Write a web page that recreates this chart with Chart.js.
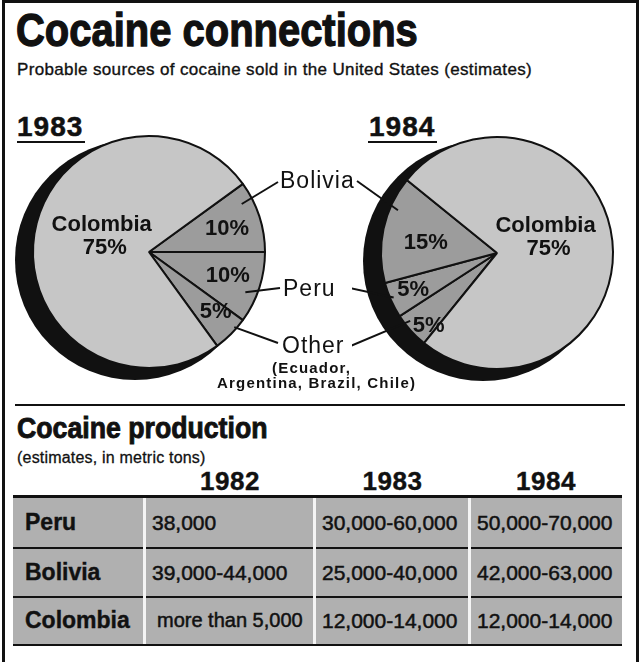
<!DOCTYPE html>
<html><head><meta charset="utf-8">
<script src="https://cdn.jsdelivr.net/npm/chart.js@4.4.1/dist/chart.umd.min.js"></script>
<style>
body{margin:0;width:641px;height:662px;background:#fff;position:relative;overflow:hidden;font-family:"Liberation Sans",Arial,sans-serif;color:#111}
.t{position:absolute;white-space:nowrap;line-height:1}
canvas{position:absolute}
</style></head><body>
<script>
// ---- data ----
const pieCategories1983 = ['Bolivia', 'Peru', 'Other', 'Colombia'];
const pieValues1983 = [10, 10, 5, 75];
const pieCategories1984 = ['Other', 'Peru', 'Bolivia', 'Colombia'];
const pieValues1984 = [5, 5, 15, 75];
const tableYears = ['1982', '1983', '1984'];
const tableCountries = ['Peru', 'Bolivia', 'Colombia'];
const prodPeru = ['38,000', '30,000-60,000', '50,000-70,000'];
const prodBolivia = ['39,000-44,000', '25,000-40,000', '42,000-63,000'];
const prodColombia = ['more than 5,000', '12,000-14,000', '12,000-14,000'];
</script>

<div style="position:absolute;left:2px;top:0;width:631px;height:720px;border:3px solid #111;border-bottom:none"></div>

<div class="t" style="left:16px;top:6px;font-size:47px;font-weight:bold;transform:scaleX(0.85);transform-origin:0 0;-webkit-text-stroke:1.3px #111">Cocaine connections</div>
<div class="t" style="left:17px;top:61px;font-size:17px;letter-spacing:0.35px;-webkit-text-stroke:0.35px #111">Probable sources of cocaine sold in the United States (estimates)</div>

<div class="t" style="left:17px;top:113px;font-size:28px;font-weight:bold;letter-spacing:1px;-webkit-text-stroke:0.5px #111">1983</div>
<div style="position:absolute;left:17px;top:141px;width:68px;height:2px;background:#111"></div>
<div class="t" style="left:369px;top:113px;font-size:28px;font-weight:bold;letter-spacing:1px;-webkit-text-stroke:0.5px #111">1984</div>
<div style="position:absolute;left:368px;top:141px;width:69px;height:2px;background:#111"></div>

<canvas id="c1983" width="270" height="270" style="left:14px;top:117px;width:270px;height:270px"></canvas>
<canvas id="c1984" width="290" height="290" style="left:352px;top:108px;width:290px;height:290px"></canvas>

<div class="t" style="left:280px;top:169px;font-size:23px;letter-spacing:1px;z-index:2">Bolivia</div>
<div class="t" style="left:283px;top:277px;font-size:23px;letter-spacing:1px;z-index:2">Peru</div>
<div class="t" style="left:282px;top:334px;font-size:23px;letter-spacing:1px;z-index:2">Other</div>
<div class="t" style="left:272px;top:360px;font-size:15px;font-weight:bold;letter-spacing:1.2px;z-index:2">(Ecuador,</div>
<div class="t" style="left:217px;top:375px;font-size:15px;font-weight:bold;letter-spacing:1.2px;z-index:2">Argentina, Brazil, Chile)</div>

<div style="position:absolute;left:15px;top:404px;width:610px;height:2px;background:#111"></div>

<div class="t" style="left:17px;top:414px;font-size:29px;font-weight:bold;transform:scaleX(0.92);transform-origin:0 0;-webkit-text-stroke:0.9px #111">Cocaine production</div>
<div class="t" style="left:17px;top:450px;font-size:16px;letter-spacing:0.2px;-webkit-text-stroke:0.3px #111">(estimates, in metric tons)</div>

<div id="table"></div>

<script>
// ---- table (built from the arrays) ----
(function(){
  const host = document.getElementById('table');
  const colX = [13, 145, 315, 470, 622];
  const rowY = [498, 549, 598, 646];
  const rows = [prodPeru, prodBolivia, prodColombia];
  let html = '';
  tableYears.forEach((y, i) => {
    html += `<div class="t" style="left:${colX[i+1]}px;width:${colX[i+2]-colX[i+1]}px;text-align:center;top:468px;font-size:26px;font-weight:bold;letter-spacing:0.5px;-webkit-text-stroke:0.4px #111">${y}</div>`;
  });
  html += `<div style="position:absolute;left:${colX[0]}px;top:${rowY[0]}px;width:${colX[4]-colX[0]}px;height:${rowY[3]-rowY[0]}px;background:#b0b0b0"></div>`;
  html += `<div style="position:absolute;left:${colX[0]}px;top:495px;width:${colX[4]-colX[0]}px;height:3px;background:#111"></div>`;
  [547, 596, 644].forEach(y => {
    html += `<div style="position:absolute;left:${colX[0]}px;top:${y}px;width:${colX[4]-colX[0]}px;height:2px;background:#111"></div>`;
  });
  [145, 315, 470].forEach(x => {
    html += `<div style="position:absolute;left:${x-2}px;top:498px;width:3px;height:146px;background:#f4f4f4"></div>`;
  });
  tableCountries.forEach((c, r) => {
    const yc = (rowY[r] + rowY[r+1]) / 2;
    html += `<div class="t" style="left:${colX[0]+12}px;top:${yc-13}px;font-size:23px;font-weight:bold;-webkit-text-stroke:0.4px #111">${c}</div>`;
    rows[r].forEach((v, i) => {
      const small = v.startsWith('more');
      html += `<div class="t" style="left:${colX[i+1]+ (small?12:7)}px;top:${yc-12}px;font-size:${small?20:21}px;-webkit-text-stroke:0.5px #111;letter-spacing:0px">${v}</div>`;
    });
  });
  host.innerHTML = html;
})();

// ---- pies ----
const lightFill = '#c6c6c6';
const darkFill = '#9c9c9c';

function decoPlugin(labelSpec, leaderSpec, canvasLeft, canvasTop){
  return {
    id: 'deco',
    beforeDatasetsDraw(chart){
      const a = chart.getDatasetMeta(0).data[0];
      const ctx = chart.ctx;
      ctx.save();
      ctx.fillStyle = '#111';
      ctx.beginPath();
      ctx.arc(a.x - 14, a.y + 8, a.outerRadius + 4, 0, Math.PI * 2);
      ctx.fill();
      ctx.restore();
    },
    afterDatasetsDraw(chart){
      const ctx = chart.ctx;
      const meta = chart.getDatasetMeta(0);
      const vals = chart.data.datasets[0].data;
      const cats = chart.data.labels;
      ctx.save();
      ctx.fillStyle = '#111';
      ctx.textAlign = 'center';
      ctx.textBaseline = 'middle';
      meta.data.forEach((arc, i) => {
        const s = labelSpec[i];
        const ang = arc.startAngle + (arc.endAngle - arc.startAngle) * s.a;
        const rr = arc.outerRadius * s.r;
        const x = arc.x + rr * Math.cos(ang), y = arc.y + rr * Math.sin(ang);
        ctx.font = 'bold 22px "Liberation Sans", Arial, sans-serif';
        if (cats[i] === 'Colombia') {
          ctx.fillText(cats[i], x, y - 11);
          ctx.fillText(vals[i] + '%', x + 3, y + 12);
        } else {
          ctx.fillText(vals[i] + '%', x, y);
        }
      });
      ctx.strokeStyle = '#111';
      ctx.lineWidth = 2;
      meta.data.forEach((arc, i) => {
        const L = leaderSpec[i];
        if (!L) return;
        const ang = arc.startAngle + (arc.endAngle - arc.startAngle) * L.a;
        const rr = arc.outerRadius * L.r;
        ctx.beginPath();
        ctx.moveTo(L.to[0] - canvasLeft, L.to[1] - canvasTop);
        ctx.lineTo(arc.x + rr * Math.cos(ang), arc.y + rr * Math.sin(ang));
        ctx.stroke();
      });
      ctx.restore();
    }
  };
}

function makePie(id, cats, vals, rotation, pad, labelSpec, leaderSpec, left, top){
  return new Chart(document.getElementById(id), {
    type: 'pie',
    data: {
      labels: cats,
      datasets: [{
        data: vals,
        backgroundColor: cats.map(c => c === 'Colombia' ? lightFill : darkFill),
        borderColor: '#111',
        borderWidth: 2
      }]
    },
    options: {
      responsive: false,
      animation: false,
      rotation: rotation,
      layout: { padding: pad },
      plugins: { legend: { display: false }, tooltip: { enabled: false } },
      events: []
    },
    plugins: [decoPlugin(labelSpec, leaderSpec, left, top)]
  });
}

makePie('c1983', pieCategories1983, pieValues1983, 54, 18,
  [{a:0.55, r:0.70}, {a:0.47, r:0.71}, {a:0.32, r:0.77}, {a:0.535, r:0.43}],
  [{a:0.24, r:0.90, to:[278,182]}, {a:0.63, r:0.90, to:[280,288]}, {a:0.30, r:0.98, to:[278,343]}, null],
  14, 117);

makePie('c1984', pieCategories1984, pieValues1984, 219, 28,
  [{a:0.22, r:0.865}, {a:0.51, r:0.79}, {a:0.42, r:0.62}, {a:0.456, r:0.44}],
  [{a:0.72, r:0.95, to:[348,347]}, {a:0.54, r:0.97, to:[340,286]}, {a:0.71, r:0.93, to:[357,181]}, null],
  352, 108);
</script>
</body></html>
